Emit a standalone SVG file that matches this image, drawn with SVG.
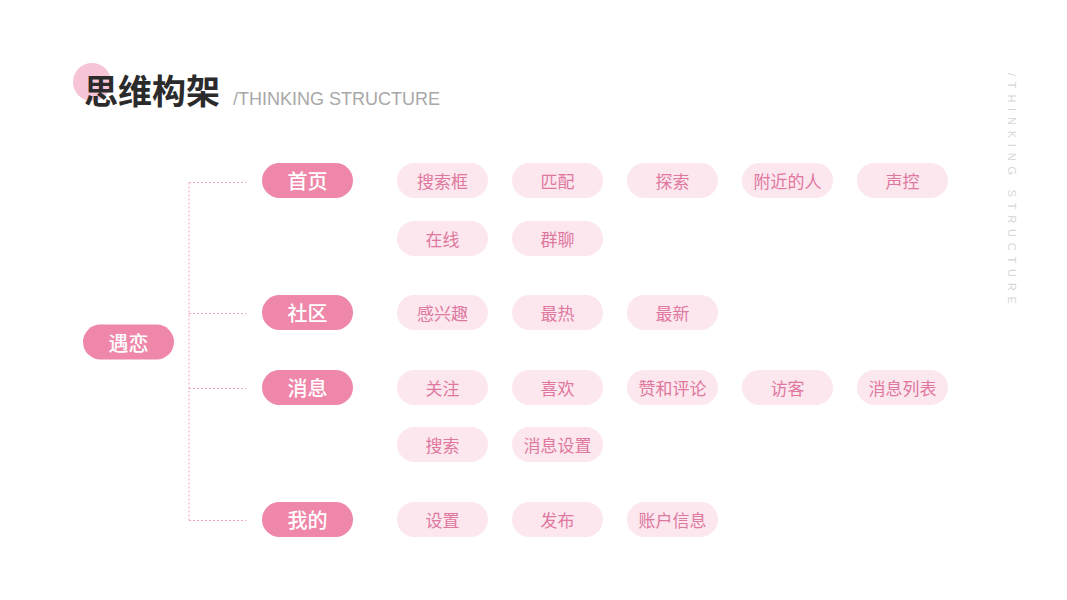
<svg xmlns="http://www.w3.org/2000/svg" width="1067" height="600" viewBox="0 0 1067 600">
<style>
.cjk{font-family:"Noto Sans CJK SC","Liberation Sans",sans-serif}
.p0{fill:#ee87a9}
.p1{fill:#ee87a9}
.p2{fill:#fce7ef}
.t1{fill:#ffffff;font-size:20px;font-weight:500;text-anchor:middle;dominant-baseline:central}
.t2{fill:#df789e;font-size:17px;text-anchor:middle;dominant-baseline:central}
.ln{fill:none;stroke:#f2a3bf;stroke-width:1;stroke-dasharray:2 2}
</style>
<rect width="1067" height="600" fill="#ffffff"/>
<g id="title">
<circle cx="92" cy="82" r="19" fill="#f6c4d6"/>
<text class="cjk" x="84" y="104" font-size="34" font-weight="700" fill="#2b2b2b">思维构架</text>
<text x="233" y="105" font-family="Liberation Sans,Arial,sans-serif" font-size="18" fill="#a8a8a8">/THINKING STRUCTURE</text>
</g>
<g id="side-label">
<text transform="translate(1008,73) rotate(90)" font-family="Liberation Sans,Arial,sans-serif" font-size="11" letter-spacing="5.8" fill="#d6d6d6">/THINKING STRUCTURE</text>
</g>
<g id="connectors">
<path class="ln" d="M189 182.5V520.5"/>
<path class="ln" d="M189 182.5H246M189 313.5H246M189 388.5H246M189 520.5H246"/>
</g>
<g id="root" class="cjk"><rect class="p0" x="83" y="324.5" width="91" height="35" rx="17.5"/><text class="t1" x="128.5" y="342">遇恋</text></g>
<g id="n-home" class="cjk"><rect class="p1" x="262" y="163" width="91" height="35" rx="17.5"/><text class="t1" x="307.5" y="180.5">首页</text></g>
<g id="n-community" class="cjk"><rect class="p1" x="262" y="295" width="91" height="35" rx="17.5"/><text class="t1" x="307.5" y="312.5">社区</text></g>
<g id="n-message" class="cjk"><rect class="p1" x="262" y="370" width="91" height="35" rx="17.5"/><text class="t1" x="307.5" y="387.5">消息</text></g>
<g id="n-mine" class="cjk"><rect class="p1" x="262" y="502" width="91" height="35" rx="17.5"/><text class="t1" x="307.5" y="519.5">我的</text></g>
<g id="home-1" class="cjk"><rect class="p2" x="397" y="163" width="91" height="35" rx="17.5"/><text class="t2" x="442.5" y="180.5">搜索框</text></g>
<g id="home-2" class="cjk"><rect class="p2" x="512" y="163" width="91" height="35" rx="17.5"/><text class="t2" x="557.5" y="180.5">匹配</text></g>
<g id="home-3" class="cjk"><rect class="p2" x="627" y="163" width="91" height="35" rx="17.5"/><text class="t2" x="672.5" y="180.5">探索</text></g>
<g id="home-4" class="cjk"><rect class="p2" x="742" y="163" width="91" height="35" rx="17.5"/><text class="t2" x="787.5" y="180.5">附近的人</text></g>
<g id="home-5" class="cjk"><rect class="p2" x="857" y="163" width="91" height="35" rx="17.5"/><text class="t2" x="902.5" y="180.5">声控</text></g>
<g id="home-6" class="cjk"><rect class="p2" x="397" y="221" width="91" height="35" rx="17.5"/><text class="t2" x="442.5" y="238.5">在线</text></g>
<g id="home-7" class="cjk"><rect class="p2" x="512" y="221" width="91" height="35" rx="17.5"/><text class="t2" x="557.5" y="238.5">群聊</text></g>
<g id="comm-1" class="cjk"><rect class="p2" x="397" y="295" width="91" height="35" rx="17.5"/><text class="t2" x="442.5" y="312.5">感兴趣</text></g>
<g id="comm-2" class="cjk"><rect class="p2" x="512" y="295" width="91" height="35" rx="17.5"/><text class="t2" x="557.5" y="312.5">最热</text></g>
<g id="comm-3" class="cjk"><rect class="p2" x="627" y="295" width="91" height="35" rx="17.5"/><text class="t2" x="672.5" y="312.5">最新</text></g>
<g id="msg-1" class="cjk"><rect class="p2" x="397" y="370" width="91" height="35" rx="17.5"/><text class="t2" x="442.5" y="387.5">关注</text></g>
<g id="msg-2" class="cjk"><rect class="p2" x="512" y="370" width="91" height="35" rx="17.5"/><text class="t2" x="557.5" y="387.5">喜欢</text></g>
<g id="msg-3" class="cjk"><rect class="p2" x="627" y="370" width="91" height="35" rx="17.5"/><text class="t2" x="672.5" y="387.5">赞和评论</text></g>
<g id="msg-4" class="cjk"><rect class="p2" x="742" y="370" width="91" height="35" rx="17.5"/><text class="t2" x="787.5" y="387.5">访客</text></g>
<g id="msg-5" class="cjk"><rect class="p2" x="857" y="370" width="91" height="35" rx="17.5"/><text class="t2" x="902.5" y="387.5">消息列表</text></g>
<g id="msg-6" class="cjk"><rect class="p2" x="397" y="427" width="91" height="35" rx="17.5"/><text class="t2" x="442.5" y="444.5">搜索</text></g>
<g id="msg-7" class="cjk"><rect class="p2" x="512" y="427" width="91" height="35" rx="17.5"/><text class="t2" x="557.5" y="444.5">消息设置</text></g>
<g id="mine-1" class="cjk"><rect class="p2" x="397" y="502" width="91" height="35" rx="17.5"/><text class="t2" x="442.5" y="519.5">设置</text></g>
<g id="mine-2" class="cjk"><rect class="p2" x="512" y="502" width="91" height="35" rx="17.5"/><text class="t2" x="557.5" y="519.5">发布</text></g>
<g id="mine-3" class="cjk"><rect class="p2" x="627" y="502" width="91" height="35" rx="17.5"/><text class="t2" x="672.5" y="519.5">账户信息</text></g>
</svg>
